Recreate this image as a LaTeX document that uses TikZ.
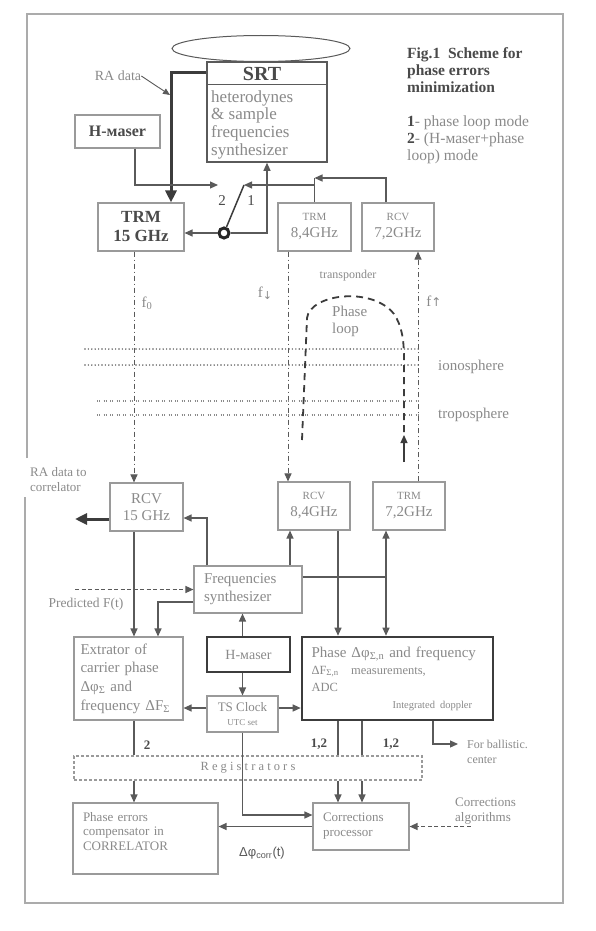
\documentclass[tikz,border=0pt]{standalone}
\usepackage{fontspec}
\setmainfont{Liberation Serif}
\newfontfamily\sansf{Liberation Sans}
\newfontfamily\symf{DejaVu Sans}
\usetikzlibrary{arrows.meta,shapes.geometric,calc}
\definecolor{txtc}{HTML}{8A8A8A}
\definecolor{boldc}{HTML}{4A4A4A}
\definecolor{boxc}{HTML}{9A9A9A}
\definecolor{linec}{HTML}{5A5A5A}
\definecolor{darkc}{HTML}{3C3C3C}
\definecolor{framec}{HTML}{ABABAB}
\newcommand\myfs[2]{\fontsize{#1}{#2}\selectfont}
\begin{document}
\begin{tikzpicture}[x=1pt,y=-1pt,
 bx/.style={draw=boxc,line width=1.1pt,inner sep=0pt,text=txtc,align=center},
 tbx/.style={draw=darkc,line width=2.6pt,inner sep=0pt,text=txtc},
 ln/.style={draw=linec,line width=1.2pt},
 ar/.style={ln,-{Triangle[length=8pt,width=7pt]}},
 bar/.style={ln,{Triangle[length=8pt,width=7pt]}-{Triangle[length=8pt,width=7pt]}},
 thar/.style={draw=darkc,line width=3pt,-{Triangle[length=12pt,width=11pt]}},
 dar/.style={ar,dash pattern=on 4pt off 2.5pt},
 dd/.style={ln,line width=1pt,dash pattern=on 5pt off 3pt on 1pt off 3pt,-{Triangle[length=8pt,width=7pt]}},
 lbl/.style={inner sep=0pt,text=txtc},
 blbl/.style={inner sep=0pt,text=boldc,font=\bfseries\myfs{13}{15}},
]
\fill[white] (0,0) rectangle (595,931);
\useasboundingbox (0,0) rectangle (595,931);
% frame
\draw[framec,line width=1.5pt] (27,458) -- (27,14) -- (563,14) -- (563,903) -- (25,903) -- (25,497);

% ---------- top part nodes
\node[ellipse,draw=linec,line width=1pt,minimum width=178pt,minimum height=26pt,inner sep=0pt] (dish) at (261,48.5) {};
\node[bx,draw=linec,line width=1.6pt,minimum width=120pt,minimum height=100pt] (srt) at (267,112) {};
\draw[linec,line width=1pt] ([yshift=-23pt]srt.north west) -- ([yshift=-23pt]srt.north east);
\node[lbl,text=boldc,font=\bfseries\myfs{20}{22}] (srtt) at (262,74) {SRT};
\node[lbl,anchor=west,align=left,font=\myfs{17}{17.7}] (srtb) at (211,124.5) {heterodynes\\\& sample\\frequencies\\synthesizer};

\node[bx,minimum width=85pt,minimum height=33pt,text=boldc,font=\bfseries\myfs{16}{18}] (hm1) at (117.5,131.5) {H-мaser};
\node[bx,minimum width=86pt,minimum height=48pt,text=boldc,font=\bfseries\myfs{17}{19}] (trm15) at (141,227) {TRM\\15 GHz};
\node[bx,minimum width=73pt,minimum height=48pt,font=\myfs{15}{17}] (trm84) at (314.5,227) {{\myfs{11}{13}TRM}\\8,4GHz};
\node[bx,minimum width=72pt,minimum height=48pt,font=\myfs{15}{17}] (rcv72) at (398,227) {{\myfs{11}{13}RCV}\\7,2GHz};

\node[lbl,anchor=west,align=left,text=boldc,font=\bfseries\myfs{15.5}{17}] (title) at (407,70) {Fig.1~ Scheme for\\phase errors\\minimization};
\node[lbl,anchor=west,align=left,font=\myfs{15.5}{17}] (modes) at (407,140) {\textbf{\color{boldc}1}- phase loop mode\\\textbf{\color{boldc}2}- (H-мaser+phase\\loop) mode};

% ---------- lower part nodes
\node[bx,minimum width=73pt,minimum height=48pt,font=\myfs{15}{17}] (rcv15) at (146.5,507) {RCV\\15 GHz};
\node[bx,minimum width=72pt,minimum height=48pt,font=\myfs{15}{17}] (rcv84) at (314,506) {{\myfs{11}{13}RCV}\\8,4GHz};
\node[bx,minimum width=72pt,minimum height=48pt,font=\myfs{15}{17}] (trm72) at (409,506) {{\myfs{11}{13}TRM}\\7,2GHz};
\node[bx,minimum width=108pt,minimum height=47pt,text width=88pt,align=left,font=\myfs{15}{18}] (synth) at (248,589.5) {Frequencies\\synthesizer};
\node[bx,minimum width=109pt,minimum height=83pt,text width=96pt,align=left,font=\myfs{15}{18.7}] (extr) at (128.5,678.5) {Extrator of\\carrier phase\\Δφ\textsubscript{Σ} and\\frequency ΔF\textsubscript{Σ}};
\node[tbx,minimum width=83pt,minimum height=35pt,font=\myfs{14}{16}] (hm2) at (248.5,654.5) {H-мaser};
\node[bx,minimum width=71pt,minimum height=36pt,font=\myfs{13}{14}] (tsc) at (242.5,714) {TS Clock\\{\myfs{9}{10}UTC set}};
\node[tbx,minimum width=191pt,minimum height=83pt,text width=172pt,align=left,font=\myfs{15}{17}] (phase) at (397.5,678.5) {Phase Δφ\textsubscript{Σ,n} and frequency\\{\myfs{12.5}{14}ΔF\textsubscript{Σ,n}\quad measurements,}\\{\myfs{12.5}{14}ADC}\\\hspace*{81pt}{\myfs{10.5}{12}Integrated doppler}};
\node[bx,dash pattern=on 3pt off 2pt,minimum width=348pt,minimum height=24pt,font=\myfs{12.5}{14}] (reg) at (248,768) {R e g i s t r a t o r s};
\node[bx,minimum width=145pt,minimum height=71pt,text width=125pt,align=left,font=\myfs{13}{14.5}] (comp) at (145.5,838.5) {Phase errors\\compensator in\\CORRELATOR\\\mbox{}};
\node[bx,minimum width=96pt,minimum height=47pt,text width=76pt,align=left,font=\myfs{13}{15}] (corr) at (361,826.5) {Corrections\\processor};

% ---------- top connectors
\coordinate (raX) at (171,73);
\draw[thar] (srt.west |- raX) -- (raX) -- (raX |- trm15.north);
\node[lbl,font=\myfs{14}{16}] (radata) at (118,76) {RA data};
\coordinate (raTip) at (170,95);
\draw[ln,line width=0.9pt,-{Triangle[length=7pt,width=6pt]}] (radata.east) -- (raTip);

\coordinate (p2) at (218,185);
\coordinate (p1) at (244,185);
\draw[ar] ([xshift=17.5pt]hm1.south) |- (p2);
\node[lbl,text=boldc,font=\myfs{15}{17}] (l2) at (222,201) {2};
\node[lbl,text=boldc,font=\myfs{15}{17}] (l1) at (251,201) {1};

\node[circle,draw=black!85,line width=3pt,minimum size=10pt,inner sep=0pt] (sw) at (224,233) {};
\draw[darkc,line width=1.5pt] (sw) -- (p1);
\draw[ar] (sw) -- (sw -| trm15.east);
\draw[ar] (sw) -| (srt.south);

\coordinate (j1) at (314.5,178);
\draw[ar] ([xshift=-12pt]rcv72.north) |- (j1);
\draw[ln] (j1) -- (trm84.north);
\draw[ar] (trm84.north |- p1) -- (p1);

% ---------- radio paths
\coordinate (f0a) at ([xshift=-7pt]trm15.south);
\draw[dd] (f0a) -- (f0a |- rcv15.north);
\coordinate (fda) at ([xshift=-26.5pt]trm84.south);
\draw[dd] (fda) -- (fda |- rcv84.north);
\coordinate (fua) at ([xshift=9pt]trm72.north);
\draw[dd] (fua) -- (fua |- rcv72.south);
\node[lbl,font=\myfs{15}{17}] (lf0) at (147,303) {f\textsubscript{0}};
\node[lbl,font=\myfs{15}{17}] (lfd) at (265,293) {f\raisebox{-2pt}{\symf\myfs{11}{11}↓}};
\node[lbl,font=\myfs{15}{17}] (lfu) at (434,301) {f{\symf\myfs{12}{12}↑}};

\draw[linec,line width=1.6pt,line cap=round,dash pattern=on 0pt off 3.4pt] (85,349) -- (420,349);
\draw[linec,line width=1.6pt,line cap=round,dash pattern=on 0pt off 3.4pt] (85,365) -- (420,365);
\draw[txtc,line width=1.8pt,dash pattern=on 1pt off 1.2pt on 1pt off 3.3pt] (97,401) -- (420,401);
\draw[txtc,line width=1.8pt,dash pattern=on 1pt off 1.2pt on 1pt off 3.3pt] (97,415) -- (420,415);
\node[lbl,anchor=west,font=\myfs{15}{17}] (iono) at (438,367) {ionosphere};
\node[lbl,anchor=west,font=\myfs{15}{17}] (tropo) at (438,415) {troposphere};

\draw[darkc,line width=1.8pt,dash pattern=on 7pt off 5pt] (302,440) -- (307,318) .. controls (310,294) and (372,286) .. (394,314) .. controls (402,326) and (404,340) .. (404,360) -- (404,432);
\coordinate (la) at (404,462);
\coordinate (lb) at (404,435);
\draw[ar,draw=darkc] (la) -- (lb);
\node[lbl,font=\myfs{12}{14}] (transp) at (348,276) {transponder};
\node[lbl,anchor=west,align=left,font=\myfs{15}{17}] (ploop) at (332,321) {Phase\\loop};

% ---------- lower connectors
\coordinate (raout) at (75,519);
\draw[thar] ([yshift=-12pt]rcv15.west) -- (raout);
\node[lbl,anchor=west,align=left,font=\myfs{13}{15.5}] (racorr) at (30,479.5) {RA data to\\correlator};

\coordinate (s1) at ([xshift=-41pt]synth.north);
\draw[ar] (s1) |- ([yshift=-11pt]rcv15.east);
\coordinate (s2) at ([xshift=42pt]synth.north);
\draw[ar] (s2) -- (s2 |- rcv84.south);
\coordinate (r84d) at ([xshift=24pt]rcv84.south);
\draw[ar] (r84d) -- (r84d |- phase.north);
\coordinate (t72d) at ([xshift=-23pt]trm72.south);
\draw[bar] (t72d) -- (t72d |- phase.north);
\coordinate (sE) at ([yshift=12.5pt]synth.east);
\draw[ln] (sE) -- (sE -| t72d);
\coordinate (sW) at ([yshift=-12.5pt]synth.west);
\draw[ar] (sW) -| ([xshift=29.5pt]extr.north);
\coordinate (r15d) at ([xshift=-12.5pt]rcv15.south);
\draw[ar] (r15d) -- (r15d |- extr.north);
\coordinate (pred) at (75,589.5);
\draw[dar] (pred) -- (synth.west);
\node[lbl,font=\myfs{13.5}{15}] (predl) at (86,604) {Predicted F(t)};

\coordinate (hmx) at (hm2.north -| tsc.north);
\draw[ar] (hmx) -- (hmx |- synth.south);
\coordinate (hmy) at (hm2.south -| tsc.north);
\draw[ar] (hmy) -- (tsc.north);
\coordinate (tW) at ([yshift=6pt]tsc.west);
\draw[ar] (tW) -- (tW -| extr.east);
\coordinate (tE) at ([yshift=6pt]tsc.east);
\draw[ar] (tE) -- (tE -| phase.west);
\draw[ar] (tsc.south) |- ([yshift=11.5pt]corr.west);

\coordinate (pb1) at ([xshift=-59.5pt]phase.south);
\coordinate (pb2) at ([xshift=-35.5pt]phase.south);
\coordinate (pb3) at ([xshift=35.5pt]phase.south);
\draw[ln] (pb1) -- (pb1 |- reg.north);
\draw[ln] (pb2) -- (pb2 |- reg.north);
\coordinate (ballE) at (458,744);
\draw[ar] (pb3) |- (ballE);
\node[lbl,anchor=west,align=left,font=\myfs{12}{15}] (ball) at (467,752) {For ballistic.\\center};

\coordinate (eb) at ([xshift=5.5pt]extr.south);
\draw[ln] (eb) -- (eb |- reg.north);
\draw[ar] (eb |- reg.south) -- (eb |- comp.north);
\draw[ar] (pb1 |- reg.south) -- (pb1 |- corr.north);
\draw[ar] (pb2 |- reg.south) -- (pb2 |- corr.north);
\draw[ar] (corr.west) -- (corr.west -| comp.east);
\path (corr.east) ++(61,0) coordinate (algS);
\draw[dar] (algS) -- (corr.east);

\node[blbl] (l2b) at (147,745) {2};
\node[blbl] (l12a) at (319,744) {1,2};
\node[blbl] (l12b) at (391,744) {1,2};
\node[lbl,anchor=west,align=left,font=\myfs{13}{15}] (algl) at (455,811) {Corrections\\algorithms};
\node[lbl,text=linec,font=\sansf\myfs{13}{15}] (dphi) at (262,853) {Δφ\textsubscript{corr}(t)};
\end{tikzpicture}
\end{document}
